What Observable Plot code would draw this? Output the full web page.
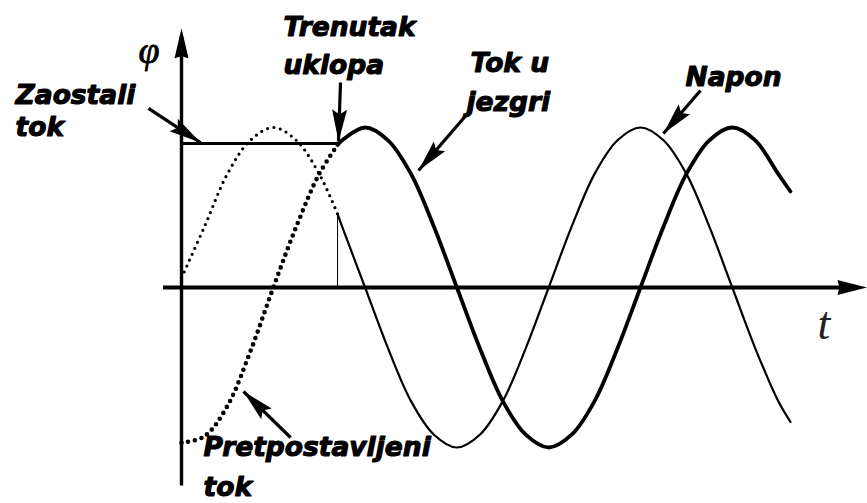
<!DOCTYPE html>
<html><head><meta charset="utf-8">
<script src="https://cdn.jsdelivr.net/npm/d3@7"></script>
<script src="https://cdn.jsdelivr.net/npm/@observablehq/plot@0.6"></script>
<style>body{margin:0;background:#fff}</style>
</head><body><div id="chart"></div>
<script>
// t = phase of the voltage in degrees, phi = flux / voltage in per-unit
// Napon (voltage) before switching (dotted)
const naponPreT = [0, 22.5, 45, 67.5, 90, 112.5, 135, 153];
const naponPreV = [0.06, 0.38, 0.71, 0.92, 1, 0.92, 0.71, 0.46];
// Napon after switching (thin solid)
const naponT = [153, 157.5, 180, 202.5, 225, 247.5, 270, 292.5, 315, 337.5, 360, 382.5, 405, 427.5, 450, 472.5, 495, 517.5, 540, 562.5, 585, 597];
const naponV = [0.46, 0.38, 0, -0.38, -0.71, -0.92, -1, -0.92, -0.71, -0.38, 0, 0.38, 0.71, 0.92, 1, 0.92, 0.71, 0.38, 0, -0.38, -0.71, -0.84];
// Pretpostavljeni tok (prospective flux, dotted)
const pretT = [0, 22.5, 45, 67.5, 90, 112.5, 135, 153];
const pretV = [-0.97, -0.93, -0.74, -0.40, 0, 0.38, 0.71, 0.89];
// Tok u jezgri (core flux, thick solid)
const tokT = [153, 157.5, 180, 202.5, 225, 247.5, 270, 292.5, 315, 337.5, 360, 382.5, 405, 427.5, 450, 472.5, 495, 517.5, 540, 562.5, 585, 597];
const tokV = [0.89, 0.92, 1, 0.92, 0.71, 0.38, 0, -0.38, -0.71, -0.92, -1, -0.92, -0.71, -0.38, 0, 0.38, 0.71, 0.92, 1, 0.92, 0.71, 0.6];
// Zaostali tok (residual flux)
const zaostT = [0, 153];
const zaostV = [0.9, 0.9];
// Switching instant
const uklopT = 153;
const uklopNapon = 0.46;
// Axes extents
const axisT = [-17.6, 672.5];
const axisPhi = [-1.24, 1.62];

// Annotation labels
const labelText = ["Zaostali", "tok", "Trenutak", "uklopa", "Tok u", "jezgri", "Napon", "Pretpostavljeni", "tok"];
const labelT =    [-162.7, -162.7, 100, 100, 283.3, 279.4, 494.1, 21.6, 21.6];
const labelP =    [1.144, 0.95, 1.569, 1.3375, 1.344, 1.106, 1.2625, -1.05, -1.3];
// Annotation arrows (tail -> tip)
const arrTailT = [-32.4, 155.9, 281.4, 508.8, 106.9];
const arrTailP = [1.119, 1.281, 1.094, 1.231, -0.9375];
const arrTipT  = [18.6, 153.9, 232.4, 472.5, 60.8];
const arrTipP  = [0.906, 0.9125, 0.731, 0.9625, -0.65];
// Axis names
const axisNames = ["φ", "t"];

const W = 867, H = 503;
const xDomain = [0, 600], xRange = [181, 793];
const yDomain = [-1, 1], yRange = [447, 127];
const sx = d3.scaleLinear(xDomain, xRange), sy = d3.scaleLinear(yDomain, yRange);

const toRows = (T, V) => T.map((t, i) => ({t, v: V[i]}));

function head(angle, len, hw, notch) {
  const c = Math.cos(angle), s = Math.sin(angle);
  const P = (u, v) => [u * c - v * s, u * s + v * c];
  return {draw(ctx) {
    const pts = [P(0, 0), P(-len, -hw), P(-len + notch, 0), P(-len, hw)];
    ctx.moveTo(pts[0][0], pts[0][1]);
    for (let i = 1; i < pts.length; i++) ctx.lineTo(pts[i][0], pts[i][1]);
    ctx.closePath();
  }};
}

const arrows = arrTailT.map((t, i) => ({t1: t, p1: arrTailP[i], t2: arrTipT[i], p2: arrTipP[i]}));
const arrowMarks = arrows.flatMap(a => {
  const ang = Math.atan2(sy(a.p2) - sy(a.p1), sx(a.t2) - sx(a.t1));
  return [
    Plot.link([a], {x1: "t1", y1: "p1", x2: "t2", y2: "p2", stroke: "black", strokeWidth: 3.2}),
    Plot.dot([a], {x: "t2", y: "p2", symbol: head(ang, 32, 7.5, 5), fill: "black", stroke: "none"})
  ];
});

const labels = labelText.map((s, i) => ({s, t: labelT[i], p: labelP[i]}));

const plot = Plot.plot({
  width: W, height: H,
  x: {domain: xDomain, range: xRange, axis: null},
  y: {domain: yDomain, range: yRange, axis: null},
  style: {background: "white", overflow: "visible"},
  marks: [
    // axes
    Plot.ruleY([0], {x1: axisT[0], x2: axisT[1] - 10, stroke: "black", strokeWidth: 4}),
    Plot.ruleX([0], {y1: axisPhi[0], y2: axisPhi[1] - 0.05, stroke: "black", strokeWidth: 3.4}),
    Plot.dot([{t: axisT[1], p: 0}], {x: "t", y: "p", symbol: head(0, 30, 7.5, 2), fill: "black", stroke: "none"}),
    Plot.dot([{t: 0, p: axisPhi[1]}], {x: "t", y: "p", symbol: head(-Math.PI / 2, 30, 7, 2), fill: "black", stroke: "none"}),
    // switching instant marker
    Plot.ruleX([uklopT], {y1: 0, y2: uklopNapon, stroke: "black", strokeWidth: 1}),
    // curves
    Plot.line(toRows(naponPreT, naponPreV), {x: "t", y: "v", curve: "catmull-rom", stroke: "black", strokeWidth: 3.2, strokeDasharray: "0 6.5", strokeLinecap: "round"}),
    Plot.line(toRows(pretT, pretV), {x: "t", y: "v", curve: "catmull-rom", stroke: "black", strokeWidth: 4.6, strokeDasharray: "0 6.8", strokeLinecap: "round"}),
    Plot.line(toRows(zaostT, zaostV), {x: "t", y: "v", stroke: "black", strokeWidth: 3.2}),
    Plot.line(toRows(naponT, naponV), {x: "t", y: "v", curve: "catmull-rom", stroke: "black", strokeWidth: 2.2}),
    Plot.line(toRows(tokT, tokV), {x: "t", y: "v", curve: "catmull-rom", stroke: "black", strokeWidth: 3.8}),
    // annotation arrows
    ...arrowMarks,
    // labels
    Plot.text(labels, {x: "t", y: "p", text: "s", textAnchor: "start", lineAnchor: "bottom", fontFamily: "DejaVu Sans", fontWeight: "bold", fontStyle: "italic", fontSize: 26.5, fill: "black", stroke: "black", strokeWidth: 1.1}),
    // axis names
    Plot.text([{s: axisNames[0], t: -31.9, p: 1.406}], {x: "t", y: "p", text: "s", textAnchor: "middle", lineAnchor: "bottom", fontFamily: "Liberation Serif", fontStyle: "italic", fontSize: 38, fill: "black", stroke: "black", strokeWidth: 0.8}),
    Plot.text([{s: axisNames[1], t: 629.9, p: -0.319}], {x: "t", y: "p", text: "s", textAnchor: "middle", lineAnchor: "bottom", fontFamily: "Liberation Serif", fontStyle: "italic", fontSize: 46, fill: "#222"})
  ]
});
document.getElementById("chart").appendChild(plot);
</script>
</body></html>
